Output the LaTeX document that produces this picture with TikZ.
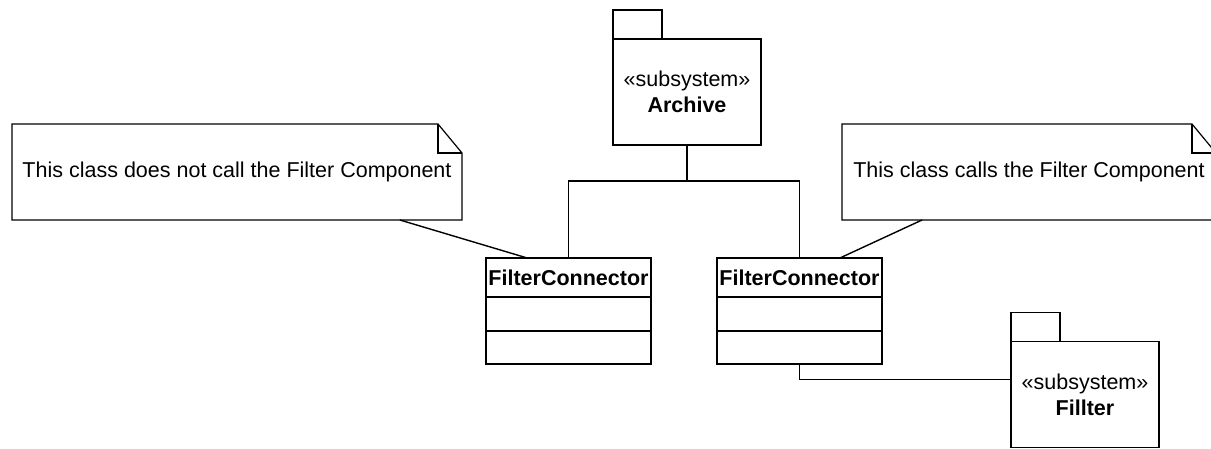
\documentclass[tikz,border=0pt]{standalone}
\usepackage{fontspec}
\setmainfont{Liberation Sans}
\usepackage{tikz}
\usetikzlibrary{positioning, calc}

\tikzset{
  pkgbody/.style={draw, line width=1.8pt, outer sep=0pt, minimum width=148pt, minimum height=106pt, align=center},
  classhead/.style={draw, line width=1.8pt, outer sep=0pt, minimum width=165pt, minimum height=39pt, inner sep=0pt, font=\fontsize{21.5}{26}\selectfont\bfseries},
  classpart/.style={draw, line width=1.8pt, outer sep=0pt, minimum width=165pt, minimum height=34pt},
  notebox/.style={outer sep=0pt, align=center},
  noteline/.style={line width=1.2pt, line join=miter},
  link/.style={line width=1.4pt}
}

\begin{document}
\begin{tikzpicture}[x=1pt, y=-1pt, every node/.style={font=\fontsize{21.5}{26}\selectfont}]
    \useasboundingbox (0,0) rectangle (1211,448);
    \clip (0,0) rectangle (1211,448);

    % subsystems
    \node[pkgbody] (archive) at (687,92) {«subsystem»\\\textbf{Archive}};
    \node[pkgbody] (filter) at (1085,394.5) {«subsystem»\\\textbf{Fillter}};
    \foreach \p in {archive,filter}
        \draw[line width=1.8pt] (\p.north west) rectangle ++(49,-29);

    % the two connector classes
    \node[classhead] (leftCls) at (568.5,277.5) {FilterConnector};
    \node[classpart, below=0pt of leftCls] (leftAttr) {};
    \node[classpart, below=0pt of leftAttr, minimum height=33pt] (leftOps) {};

    \node[classhead] (rightCls) at (799.5,277.5) {FilterConnector};
    \node[classpart, below=0pt of rightCls] (rightAttr) {};
    \node[classpart, below=0pt of rightAttr, minimum height=33pt] (rightOps) {};

    % notes with a folded corner
    \node[notebox, minimum width=450pt, minimum height=96pt] (noteL) at (237,172)
        {This class does not call the Filter Component};
    \node[notebox, minimum width=374pt, minimum height=96pt] (noteR) at (1029,172)
        {This class calls the Filter Component};
    \foreach \n in {noteL,noteR} {
        \draw[noteline] (\n.north west) -- ([xshift=-24pt]\n.north east)
            -- ([yshift=-29pt]\n.north east) -- (\n.south east) -- (\n.south west) -- cycle;
        \draw[noteline] ([xshift=-24pt]\n.north east) |- ([yshift=-29pt]\n.north east);
    }

    % containment lines
    \coordinate (split) at ($(archive.south)+(0,36)$);
    \draw[link] (archive.south) -- (split);
    \draw[link] (leftCls.north) |- (split) -| (rightCls.north);

    \coordinate (filterIn) at ($(filter.north west)+(0,38)$);
    \draw[link] (rightOps.south) |- (filterIn);

    % note anchors
    \draw[link] ($(noteL.south west)!0.862!(noteL.south east)$) -- ($(leftCls.north west)!0.25!(leftCls.north east)$);
    \draw[link] ($(noteR.south west)!0.214!(noteR.south east)$) -- ($(rightCls.north west)!0.745!(rightCls.north east)$);
\end{tikzpicture}
\end{document}
